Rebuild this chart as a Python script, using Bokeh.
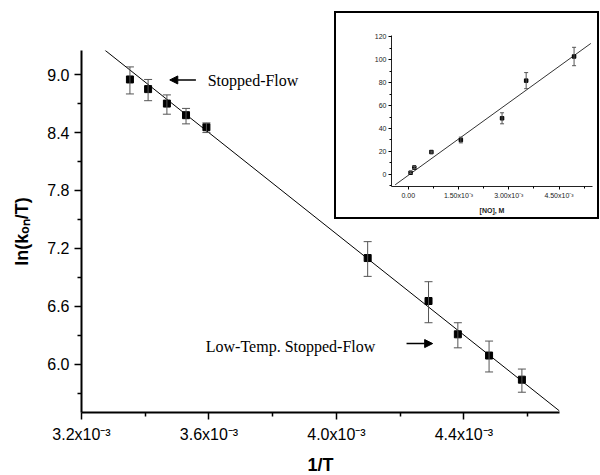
import math
from bokeh.plotting import figure
from bokeh.models import (ColumnDataSource, Whisker, TeeHead, FixedTicker, Label,
                          Arrow, NormalHead, Range1d)
from bokeh.layouts import column
from bokeh.embed import file_html
from bokeh.resources import INLINE

# ---------------- main chart data ----------------
inv_T = [3.352e-3, 3.409e-3, 3.468e-3, 3.528e-3, 3.592e-3,
         4.098e-3, 4.289e-3, 4.381e-3, 4.479e-3, 4.582e-3]
ln_k_T = [8.95, 8.85, 8.70, 8.58, 8.455, 7.10, 6.655, 6.31, 6.09, 5.84]
ln_upper = [9.08, 8.95, 8.79, 8.65, 8.50, 7.27, 6.855, 6.43, 6.24, 5.95]
ln_lower = [8.80, 8.73, 8.59, 8.49, 8.40, 6.91, 6.43, 6.17, 5.92, 5.71]
fit_slope = -2620.0
fit_intercept = 17.83
fit_x = [3.273e-3, 4.70e-3]

x_ticks = [3.2e-3, 3.6e-3, 4.0e-3, 4.4e-3]
x_minor = [3.4e-3, 3.8e-3, 4.2e-3, 4.6e-3]
x_tick_labels = ["3.2x10\u207b\u00b3", "3.6x10\u207b\u00b3", "4.0x10\u207b\u00b3", "4.4x10\u207b\u00b3"]
y_ticks = [6.0, 6.6, 7.2, 7.8, 8.4, 9.0]
y_minor = [5.7, 6.3, 6.9, 7.5, 8.1, 8.7]
y_tick_labels = ["6.0", "6.6", "7.2", "7.8", "8.4", "9.0"]

# ---------------- inset data ----------------
no_conc = [0.07e-3, 0.18e-3, 0.69e-3, 1.57e-3, 2.80e-3, 3.52e-3, 4.95e-3]
k_obs = [1.5, 6.0, 19.5, 30.0, 48.9, 81.7, 102.7]
k_err = [0.8, 0.8, 0.8, 2.5, 4.8, 7.0, 8.0]
ins_slope = 21080.0
ins_intercept = -0.8
ins_fit_x = [-0.39e-3, 5.45e-3]

ins_x_ticks = [0.0, 1.5e-3, 3.0e-3, 4.5e-3]
ins_x_minor = [0.75e-3, 2.25e-3, 3.75e-3, 5.25e-3]
ins_x_labels = ["0.00", "1.50x10\u207b\u00b3", "3.00x10\u207b\u00b3", "4.50x10\u207b\u00b3"]
ins_y_ticks = [0, 20, 40, 60, 80, 100, 120]
ins_y_minor = [-10, 10, 30, 50, 70, 90, 110]

SANS = "Liberation Sans"
SERIF = "Liberation Serif"

# ---------------- main figure ----------------
p = figure(frame_width=478, frame_height=362, x_range=Range1d(3.2e-3, 4.7e-3),
           y_range=Range1d(5.5, 9.25), output_backend="svg", toolbar_location=None,
           min_border_left=81, min_border_right=38, min_border_top=50,
           min_border_bottom=62)
p.frame_align = False
p.outline_line_color = None
p.xgrid.visible = False
p.ygrid.visible = False

for ax in (p.xaxis[0], p.yaxis[0]):
    ax.axis_line_width = 2
    ax.axis_line_color = "black"
    ax.major_tick_out = 7
    ax.major_tick_in = 0
    ax.minor_tick_out = 4
    ax.minor_tick_in = 0
    ax.major_tick_line_width = 1.5
    ax.minor_tick_line_width = 1.5
    ax.major_label_text_font = SANS
    ax.major_label_text_font_size = "16px"
    ax.major_label_text_color = "black"
    ax.axis_label_text_font = SANS
    ax.axis_label_text_font_style = "bold"
    ax.axis_label_text_font_size = "18px"
    ax.axis_label_text_color = "black"

p.xaxis.ticker = FixedTicker(ticks=x_ticks, minor_ticks=x_minor)
p.xaxis.major_label_overrides = dict(zip(x_ticks, x_tick_labels))
p.xaxis.major_label_standoff = 6
p.xaxis.axis_label = "1/T"
p.xaxis.axis_label_standoff = 9

p.yaxis.ticker = FixedTicker(ticks=y_ticks, minor_ticks=y_minor)
p.yaxis.major_label_overrides = dict(zip(y_ticks, y_tick_labels))
p.yaxis.major_label_standoff = 5
p.yaxis.axis_label = "ln(k\u2092\u2099/T)"
p.yaxis.axis_label_standoff = 12

src = ColumnDataSource(dict(x=inv_T, y=ln_k_T, up=ln_upper, lo=ln_lower))
p.add_layout(Whisker(source=src, base="x", upper="up", lower="lo",
                     line_color="#555555", line_width=1,
                     upper_head=TeeHead(size=8, line_color="#555555", line_width=1),
                     lower_head=TeeHead(size=8, line_color="#555555", line_width=1),
                     level="glyph"))
fit_y = [fit_intercept + fit_slope * v for v in fit_x]
p.line(fit_x, fit_y, line_color="black", line_width=1)
p.scatter("x", "y", source=src, marker="square", size=7, fill_color="black",
          line_color="black")

p.add_layout(Label(x=3.596e-3, y=8.94, text="Stopped-Flow", text_font=SERIF,
                   text_font_size="16px", text_baseline="middle", text_color="black"))
p.add_layout(Arrow(x_start=3.559e-3, y_start=8.945, x_end=3.477e-3, y_end=8.945,
                   line_width=1.5, line_color="black",
                   end=NormalHead(size=8, fill_color="black", line_color="black")))
p.add_layout(Label(x=3.590e-3, y=6.186, text="Low-Temp. Stopped-Flow", text_font=SERIF,
                   text_font_size="16px", text_baseline="middle", text_color="black"))
p.add_layout(Arrow(x_start=4.220e-3, y_start=6.214, x_end=4.302e-3, y_end=6.214,
                   line_width=1.5, line_color="black",
                   end=NormalHead(size=8, fill_color="black", line_color="black")))

# ---------------- inset figure ----------------
ins = figure(frame_width=197, frame_height=147, x_range=Range1d(-0.5e-3, 5.5e-3),
             y_range=Range1d(-10.5, 121), output_backend="svg", toolbar_location=None,
             min_border_left=55, min_border_right=9, min_border_top=22,
             min_border_bottom=35)
ins.frame_align = False
ins.outline_line_color = None
ins.xgrid.visible = False
ins.ygrid.visible = False
ins.styles = {"position": "absolute", "left": "334px", "top": "11px",
              "border": "2px solid black", "background-color": "white"}

for ax in (ins.xaxis[0], ins.yaxis[0]):
    ax.axis_line_width = 1
    ax.axis_line_color = "#222222"
    ax.major_tick_out = 3
    ax.major_tick_in = 0
    ax.minor_tick_out = 2
    ax.minor_tick_in = 0
    ax.major_label_text_font = SANS
    ax.major_label_text_font_size = "7px"
    ax.major_label_text_color = "#222222"
    ax.major_label_standoff = 2
    ax.axis_label_text_font = SANS
    ax.axis_label_text_font_style = "bold"
    ax.axis_label_text_font_size = "7px"
    ax.axis_label_text_color = "#222222"

ins.xaxis.ticker = FixedTicker(ticks=ins_x_ticks, minor_ticks=ins_x_minor)
ins.xaxis.major_label_overrides = dict(zip(ins_x_ticks, ins_x_labels))
ins.xaxis.axis_label = "[NO], M"
ins.xaxis.axis_label_standoff = 5
ins.yaxis.ticker = FixedTicker(ticks=ins_y_ticks, minor_ticks=ins_y_minor)

isrc = ColumnDataSource(dict(x=no_conc, y=k_obs,
                             up=[a + b for a, b in zip(k_obs, k_err)],
                             lo=[a - b for a, b in zip(k_obs, k_err)]))
ins.add_layout(Whisker(source=isrc, base="x", upper="up", lower="lo",
                       line_color="#555555", line_width=1,
                       upper_head=TeeHead(size=4, line_color="#555555", line_width=1),
                       lower_head=TeeHead(size=4, line_color="#555555", line_width=1),
                       level="glyph"))
ins_fit_y = [ins_intercept + ins_slope * v for v in ins_fit_x]
ins.line(ins_fit_x, ins_fit_y, line_color="#333333", line_width=1)
ins.scatter("x", "y", source=isrc, marker="square", size=3.5, fill_color="black",
            line_color="black")

# composite y label: k_obs, s^-1
xl = -0.5e-3
lab_kw = dict(x=xl, y=35, angle=math.pi / 2, text_font=SANS, text_font_style="bold",
              text_align="left", text_baseline="alphabetic", text_color="#222222")
ins.add_layout(Label(text="k", x_offset=-23, y_offset=0, text_font_size="8.5px", **lab_kw))
ins.add_layout(Label(text="obs", x_offset=-21, y_offset=5, text_font_size="5px", **lab_kw))
ins.add_layout(Label(text=", s", x_offset=-23, y_offset=14, text_font_size="8.5px", **lab_kw))
ins.add_layout(Label(text="-1", x_offset=-27, y_offset=23.5, text_font_size="5px", **lab_kw))

layout = column(p, ins)

open("out.html", "w").write(file_html(layout, INLINE))
